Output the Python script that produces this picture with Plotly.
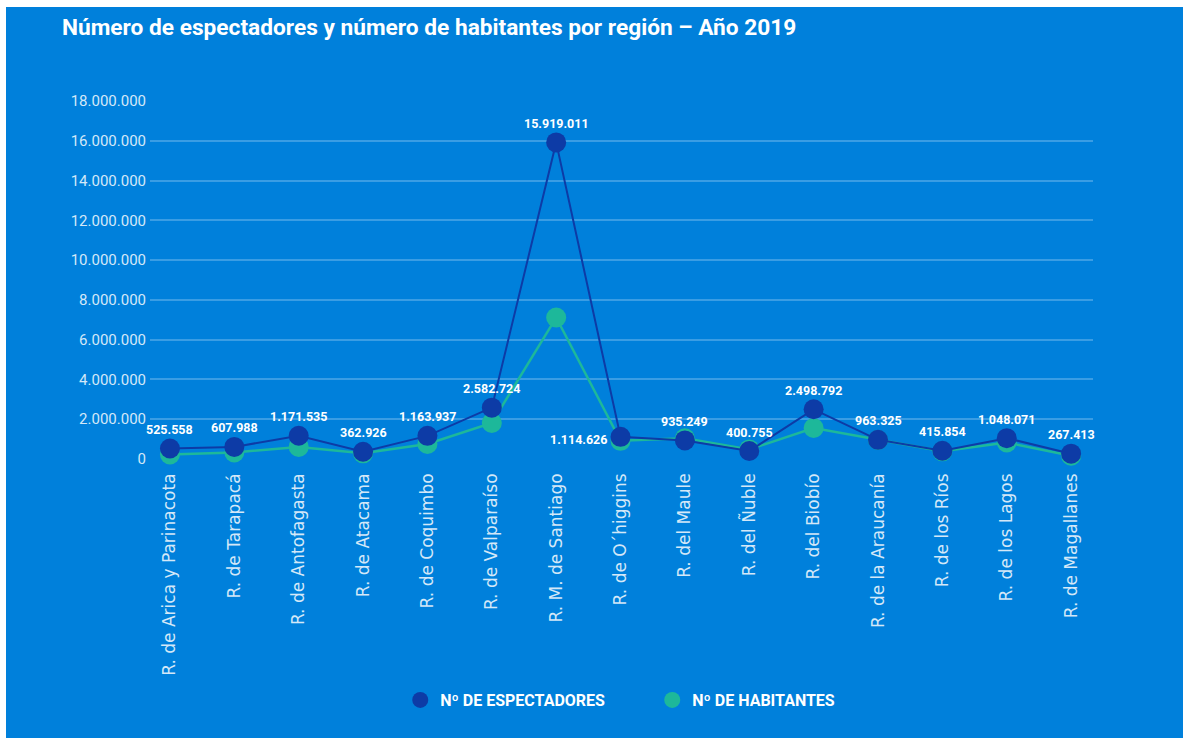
import plotly.graph_objects as go

regiones = [
    "R. de Arica y Parinacota", "R. de Tarapacá", "R. de Antofagasta",
    "R. de Atacama", "R. de Coquimbo", "R. de Valparaíso",
    "R. M. de Santiago", "R. de O´higgins", "R. del Maule", "R. del Ñuble",
    "R. del Biobío", "R. de la Araucanía", "R. de los Ríos",
    "R. de los Lagos", "R. de Magallanes",
]
espectadores = [
    525558, 607988, 1171535, 362926, 1163937, 2582724, 15919011, 1114626,
    935249, 400755, 2498792, 963325, 415854, 1048071, 267413,
]
habitantes = [
    226068, 330558, 607534, 286168, 757586, 1815902, 7112808, 914555,
    1044950, 480609, 1556805, 957224, 384837, 828708, 166533,
]
etiquetas = ["{:,}".format(v).replace(",", ".") for v in espectadores]

BG = "#0080DB"
DARK = "#0D3BA6"
GREEN = "#1DB89A"

x_idx = list(range(len(regiones)))

fig = go.Figure()

fig.add_trace(
    go.Scatter(
        x=x_idx, y=habitantes, mode="lines+markers",
        line=dict(color=GREEN, width=2.5),
        marker=dict(color=GREEN, size=20),
        cliponaxis=False, showlegend=False,
    )
)
fig.add_trace(
    go.Scatter(
        x=x_idx, y=espectadores, mode="lines+markers",
        line=dict(color=DARK, width=2),
        marker=dict(color=DARK, size=20),
        cliponaxis=False, showlegend=False,
    )
)

# legend entries: circle only
fig.add_trace(
    go.Scatter(
        x=[None], y=[None], mode="markers", name="Nº DE ESPECTADORES",
        marker=dict(color=DARK, size=18),
    )
)
fig.add_trace(
    go.Scatter(
        x=[None], y=[None], mode="markers", name="Nº DE HABITANTES",
        marker=dict(color=GREEN, size=18),
    )
)

# data labels
label_font = dict(color="white", size=12.5, family="Roboto", weight="bold")
for i, (v, t) in enumerate(zip(espectadores, etiquetas)):
    if i == 7:
        fig.add_annotation(
            x=i, y=v, text=t, showarrow=False,
            xanchor="right", xshift=-12, yshift=-3, font=label_font,
        )
    else:
        fig.add_annotation(
            x=i, y=v, text=t, showarrow=False, yshift=19, font=label_font,
        )

fig.update_layout(
    width=1177,
    height=731,
    paper_bgcolor=BG,
    plot_bgcolor=BG,
    separators=",.",
    margin=dict(l=144, r=90, t=94, b=279),
    title=dict(
        text="<b>Número de espectadores y número de habitantes por región – Año 2019</b>",
        x=56 / 1177, xanchor="left", xref="container",
        y=1 - 20 / 731, yanchor="middle", yref="container",
        font=dict(family="Roboto", size=22.7, color="white"),
    ),
    xaxis=dict(
        range=[-0.31, 14.34],
        tickmode="array",
        tickvals=x_idx,
        ticktext=regiones,
        tickangle=-90,
        showgrid=False,
        zeroline=False,
        showline=False,
        ticklabelstandoff=10,
        tickfont=dict(family="DejaVu Sans", size=17, color="#D4E8F8"),
    ),
    yaxis=dict(
        range=[0, 18000000],
        dtick=2000000,
        tickformat=",d",
        gridcolor="#3A9DE4",
        gridwidth=2,
        zeroline=False,
        showline=False,
        ticks="",
        ticklabelstandoff=3,
        tickfont=dict(family="Roboto", size=15, color="#D4E8F8"),
    ),
    legend=dict(
        orientation="h",
        x=0.5326, xanchor="center",
        y=(452 - 693) / 358, yanchor="middle",
        font=dict(family="Roboto", size=16, color="white", weight="bold"),
        entrywidth=207,
        bgcolor="rgba(0,0,0,0)",
    ),
)

fig.write_html(
    "out.html",
    post_script="document.body.style.margin = '7px 0 0 6px';",
)
